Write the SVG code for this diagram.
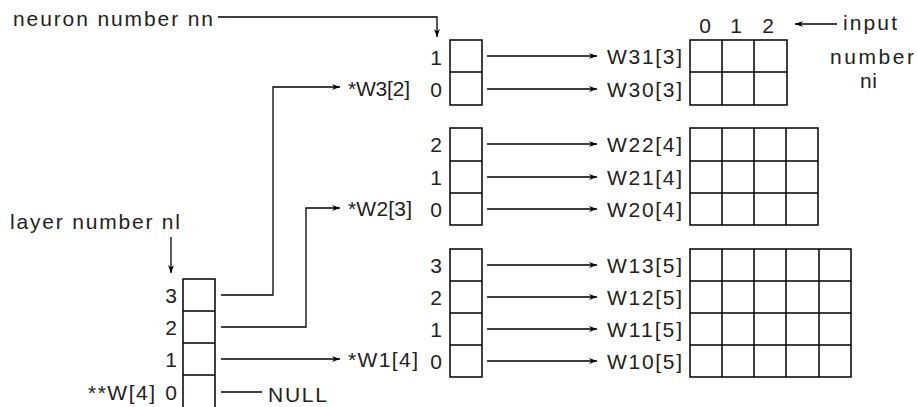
<svg xmlns="http://www.w3.org/2000/svg" width="917" height="407" viewBox="0 0 917 407">
<style>
.t{font-family:"Liberation Sans",Arial,sans-serif;font-size:21px;fill:#222}
.e{text-anchor:end}
.m{text-anchor:middle}
.b{fill:none;stroke:#000;stroke-width:1.5}
.c{fill:none;stroke:#000;stroke-width:1.3}
.a{marker-end:url(#ah)}
</style>
<defs>
<marker id="ah" markerUnits="userSpaceOnUse" markerWidth="10" markerHeight="8" refX="8" refY="4" orient="auto"><path d="M0,1 L8,4 L0,7 L2.5,4z" fill="#000"/></marker>
</defs>
<rect width="917" height="407" fill="#fff"/>

<g id="labels">
<text class="t" x="13" y="26" textLength="200" lengthAdjust="spacing">neuron number nn</text>
<text class="t" x="10" y="229" textLength="170" lengthAdjust="spacing">layer number nl</text>
<text class="t" x="843" y="30" textLength="54" lengthAdjust="spacing">input</text>
<text class="t" x="830" y="64" textLength="84" lengthAdjust="spacing">number</text>
<text class="t" x="860" y="88" textLength="17" lengthAdjust="spacing">ni</text>
<text class="t m" x="705" y="33">0</text>
<text class="t m" x="736" y="33">1</text>
<text class="t m" x="768" y="33">2</text>
</g>

<g id="layer-array">
<rect class="b" x="183" y="279" width="32" height="132"/>
<path class="b" d="M183,311H215M183,343H215M183,375H215"/>
<text class="t e" x="177" y="303">3</text>
<text class="t e" x="177" y="335">2</text>
<text class="t e" x="177" y="367">1</text>
<text class="t e" x="177" y="400">0</text>
<text class="t e" x="155" y="400" textLength="67" lengthAdjust="spacing">**W[4]</text>
<text class="t" x="268" y="402" textLength="59" lengthAdjust="spacing">NULL</text>
</g>

<g id="layer3">
<text class="t" x="348" y="96" textLength="62" lengthAdjust="spacing">*W3[2]</text>
<rect class="b" x="450" y="40" width="32" height="65"/>
<path class="b" d="M450,72H482"/>
<text class="t e" x="442" y="65">1</text>
<text class="t e" x="442" y="97">0</text>
<text class="t" x="607" y="64" textLength="75" lengthAdjust="spacing">W31[3]</text>
<text class="t" x="607" y="97" textLength="75" lengthAdjust="spacing">W30[3]</text>
</g>
<g id="matrix3">
<rect class="b" x="690" y="40" width="97" height="65"/>
<path class="b" d="M690,72H787M722,40V105M754,40V105"/>
</g>

<g id="layer2">
<text class="t" x="348" y="216" textLength="64" lengthAdjust="spacing">*W2[3]</text>
<rect class="b" x="450" y="128" width="32" height="97"/>
<path class="b" d="M450,161H482M450,193H482"/>
<text class="t e" x="442" y="152">2</text>
<text class="t e" x="442" y="185">1</text>
<text class="t e" x="442" y="217">0</text>
<text class="t" x="607" y="152" textLength="75" lengthAdjust="spacing">W22[4]</text>
<text class="t" x="607" y="185" textLength="75" lengthAdjust="spacing">W21[4]</text>
<text class="t" x="607" y="217" textLength="75" lengthAdjust="spacing">W20[4]</text>
</g>
<g id="matrix2">
<rect class="b" x="690" y="128" width="128" height="97"/>
<path class="b" d="M690,161H818M690,193H818M722,128V225M754,128V225M786,128V225"/>
</g>

<g id="layer1">
<text class="t" x="348" y="367" textLength="70" lengthAdjust="spacing">*W1[4]</text>
<rect class="b" x="450" y="249" width="32" height="128"/>
<path class="b" d="M450,281H482M450,313H482M450,345H482"/>
<text class="t e" x="442" y="273">3</text>
<text class="t e" x="442" y="305">2</text>
<text class="t e" x="442" y="337">1</text>
<text class="t e" x="442" y="369">0</text>
<text class="t" x="607" y="273" textLength="75" lengthAdjust="spacing">W13[5]</text>
<text class="t" x="607" y="305" textLength="75" lengthAdjust="spacing">W12[5]</text>
<text class="t" x="607" y="337" textLength="75" lengthAdjust="spacing">W11[5]</text>
<text class="t" x="607" y="369" textLength="75" lengthAdjust="spacing">W10[5]</text>
</g>
<g id="matrix1">
<rect class="b" x="690" y="249" width="161" height="128"/>
<path class="b" d="M690,281H851M690,313H851M690,345H851M722,249V377M754,249V377M786,249V377M819,249V377"/>
</g>

<g id="connectors">
<path class="c a" d="M218,17H437V37"/>
<path class="c a" d="M171,237V273"/>
<path class="c a" d="M837,24H795"/>
<path class="c a" d="M221,295H273V87H340"/>
<path class="c a" d="M221,327H306V208H340"/>
<path class="c a" d="M221,359H340"/>
<path class="c" d="M221,392H262"/>
<path class="c a" d="M487,56H597"/>
<path class="c a" d="M487,89H597"/>
<path class="c a" d="M487,144H597"/>
<path class="c a" d="M487,177H597"/>
<path class="c a" d="M487,209H597"/>
<path class="c a" d="M487,265H597"/>
<path class="c a" d="M487,297H597"/>
<path class="c a" d="M487,329H597"/>
<path class="c a" d="M487,361H597"/>
</g>
</svg>
